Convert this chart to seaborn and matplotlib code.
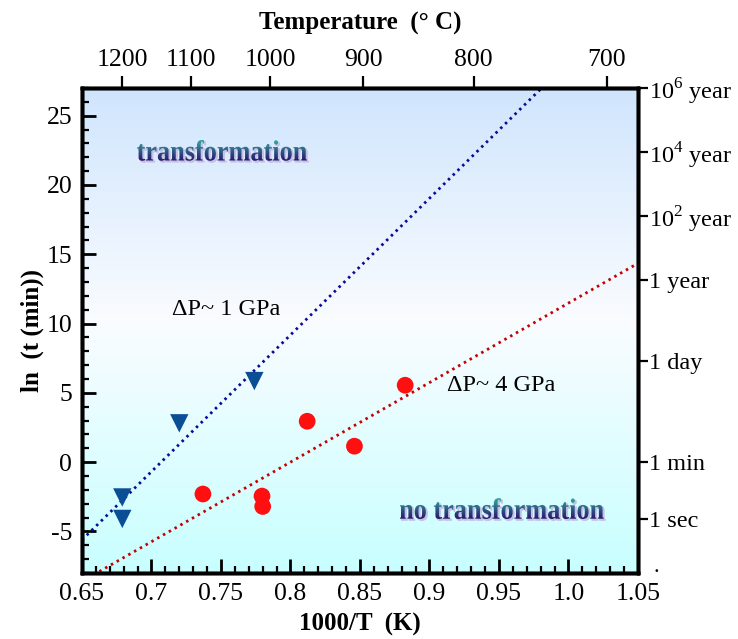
import numpy as np
import pandas as pd
import matplotlib
matplotlib.use("Agg")
import matplotlib.pyplot as plt
import seaborn as sns
from matplotlib.textpath import TextPath
from matplotlib.font_manager import FontProperties
from matplotlib.patches import PathPatch
from matplotlib.transforms import Affine2D
from matplotlib.ticker import MultipleLocator

# ---------------- data ----------------
tri_x = [0.679, 0.679, 0.720, 0.774]          # 1000/T, dP ~ 1 GPa
tri_y = [-2.55, -4.1, 2.8, 5.85]              # ln(t(min))
circ_x = [0.737, 0.7795, 0.780, 0.812, 0.846, 0.8825]   # dP ~ 4 GPa
circ_y = [-2.3, -2.45, -3.2, 2.95, 1.15, 5.55]

fit1_slope, fit1_intercept = 98.6, -69.7      # dP ~ 1 GPa trend
fit4_slope, fit4_intercept = 57.4, -45.92     # dP ~ 4 GPa trend

temp_ticks = [1200, 1100, 1000, 900, 800, 700]     # deg C
time_labels = ["1 sec", "1 min", "1 day", "1 year",
               "$10^2$ year", "$10^4$ year", "$10^6$ year"]
time_minutes = [1 / 60, 1, 1440, 525600, 5.256e7, 5.256e9, 5.256e11]

xlim = (0.65, 1.05)
ylim = (-8, 27)

# ---------------- style ----------------
sns.set_theme(style="ticks")
plt.rcParams["font.family"] = ["Liberation Serif", "DejaVu Serif"]
plt.rcParams["mathtext.fontset"] = "custom"
plt.rcParams["mathtext.rm"] = "Liberation Serif"
plt.rcParams["axes.unicode_minus"] = False
for key in ["text.color", "axes.labelcolor", "xtick.color", "ytick.color",
            "axes.edgecolor", "xtick.labelcolor", "ytick.labelcolor"]:
    plt.rcParams[key] = "black"

fig = plt.figure(figsize=(7.38, 6.39), dpi=100)
ax = fig.add_axes([0.1111, 0.1033, 0.7534, 0.7590])
ax.set_xlim(*xlim)
ax.set_ylim(*ylim)

# background gradient
top = np.array([207, 229, 253]) / 255
mid = np.array([250, 252, 255]) / 255
bot = np.array([200, 255, 255]) / 255
t = np.linspace(0, 1, 300)[:, None]
bg = np.where(t < 0.48, top + (mid - top) * (t / 0.48),
              mid + (bot - mid) * ((t - 0.48) / 0.52))
ax.imshow(bg[:, None, :], extent=[xlim[0], xlim[1], ylim[0], ylim[1]],
          aspect="auto", zorder=0, interpolation="bilinear")

# fit lines
x1 = np.linspace(xlim[0], (ylim[1] - fit1_intercept) / fit1_slope, 50)
x4 = np.linspace(xlim[0], xlim[1], 50)
df1 = pd.DataFrame({"x": x1, "y": fit1_slope * x1 + fit1_intercept})
df4 = pd.DataFrame({"x": x4, "y": fit4_slope * x4 + fit4_intercept})
sns.lineplot(data=df1, x="x", y="y", ax=ax, color="#0a0a9a", lw=2.0,
             linestyle=(0, (0.9, 1.5)), zorder=2)
sns.lineplot(data=df4, x="x", y="y", ax=ax, color="#c40000", lw=2.0,
             linestyle=(0, (0.9, 1.5)), zorder=2)

# points
sns.scatterplot(x=tri_x, y=tri_y, ax=ax, marker="v", s=175, color="#0a4f96",
                edgecolor="none", zorder=3)
sns.scatterplot(x=circ_x, y=circ_y, ax=ax, marker="o", s=145, color="#ff0f0f",
                edgecolor="none", zorder=3)

ax.set_xlim(*xlim)
ax.set_ylim(*ylim)


def gradient_text(ax, x, y, s, size, c_top, c_bot):
    fp = FontProperties(family="Liberation Serif", weight="bold")
    tp = TextPath((0, 0), s, size=size, prop=fp)
    ext = tp.get_extents()
    cx = ext.x0 + ext.width / 2
    cy = ext.y0 + ext.height / 2
    X, Y = ax.transData.transform((x, y))
    k = fig.dpi / 72
    tr = Affine2D().translate(-cx, -cy).scale(k * 0.97, k * 1.08).translate(X, Y)
    sh = PathPatch(tp, transform=tr + Affine2D().translate(1.6, -1.6),
                   fc="#c4c0e4", ec="#c4c0e4", lw=0.6, zorder=4)
    ax.add_artist(sh)
    clip = PathPatch(tp, transform=tr, fc="none", ec="none")
    ax.add_artist(clip)
    x0d, y0d = tr.transform((ext.x0, ext.y0))
    x1d, y1d = tr.transform((ext.x1, ext.y1))
    inv = ax.transData.inverted()
    dx0, dy0 = inv.transform((x0d, y0d))
    dx1, dy1 = inv.transform((x1d, y1d))
    g = np.linspace(0, 1, 100)[:, None]
    ct = np.array(c_top)
    cb = np.array(c_bot)
    img = ct + (cb - ct) * g
    im = ax.imshow(img[:, None, :], extent=[dx0, dx1, dy0, dy1], aspect="auto",
                   zorder=5, interpolation="bilinear")
    im.set_clip_path(clip)


gradient_text(ax, 0.7507, 22.5, "transformation", 19.5,
              (0.20, 0.66, 0.64), (0.17, 0.08, 0.42))
gradient_text(ax, 0.952, -3.35, "no transformation", 19.5,
              (0.20, 0.66, 0.64), (0.17, 0.08, 0.42))
ax.set_xlim(*xlim)
ax.set_ylim(*ylim)

ax.text(0.7535, 11.0, "ΔP~ 1 GPa", fontsize=17.5, ha="center", va="center",
        color="black", zorder=6)
ax.text(0.9125, 5.5, "ΔP~ 4 GPa", fontsize=17.5, ha="left", va="center",
        color="black", zorder=6)

# main axes ticks
ax.xaxis.set_major_locator(MultipleLocator(0.05))
ax.xaxis.set_minor_locator(MultipleLocator(0.01))
ax.yaxis.set_major_locator(MultipleLocator(5))
ax.yaxis.set_minor_locator(MultipleLocator(1))
ax.set_xticks(np.arange(0.65, 1.0501, 0.05))
ax.set_xticklabels(["0.65", "0.7", "0.75", "0.8", "0.85", "0.9", "0.95", "1.0", "1.05"])
ax.tick_params(which="major", direction="in", length=10, width=2,
               labelsize=18.5, colors="black", pad=7, top=False, right=False)
ax.tick_params(which="minor", direction="in", length=5, width=1.6,
               top=False, right=False)
for sp in ax.spines.values():
    sp.set_linewidth(2.5)
    sp.set_color("black")
ax.set_xlabel("1000/T  (K)", fontsize=18, fontweight="bold", labelpad=6)
ax.set_ylabel("ln  (t (min))", fontsize=18, fontweight="bold", labelpad=2)

# top temperature axis
ax_top = ax.twiny()
ax_top.set_xlim(*xlim)
ax_top.set_xticks([1000 / (tc + 273.15) for tc in temp_ticks])
ax_top.set_xticklabels([str(tc) for tc in temp_ticks])
ax_top.tick_params(axis="x", direction="out", length=9, width=1.6,
                   labelsize=18.5, pad=3, colors="black")
ax_top.set_xlabel("Temperature  (° C)", fontsize=18, fontweight="bold", labelpad=14)
for sp in ax_top.spines.values():
    sp.set_linewidth(2.5)
    sp.set_color("black")

# right time axis
ax_r = ax.twinx()
ax_r.set_ylim(*ylim)
ax_r.set_yticks([np.log(m) for m in time_minutes])
ax_r.set_yticklabels(time_labels)
ax_r.tick_params(axis="y", direction="out", length=7, width=1.6,
                 labelsize=17.5, pad=1, colors="black")
for sp in ax_r.spines.values():
    sp.set_linewidth(2.5)
    sp.set_color("black")
ax_r.text(1.033, -7.6, ".", transform=ax_r.get_yaxis_transform(),
          fontsize=16, ha="center", va="center")

fig.savefig("out.png", dpi=100)
